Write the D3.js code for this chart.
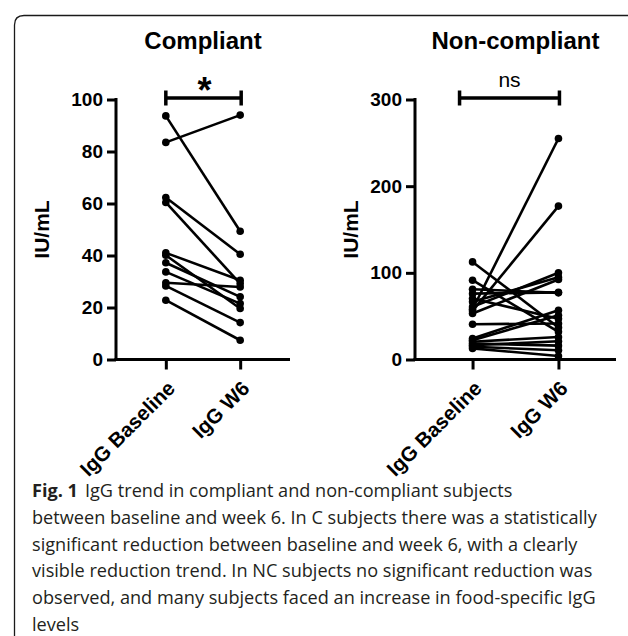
<!DOCTYPE html>
<html>
<head>
<meta charset="utf-8">
<script src="https://cdn.jsdelivr.net/npm/d3@7"></script>
<style>
  body{margin:0;background:#fff;}
  svg{display:block;}
</style>
</head>
<body>
<div id="fig"></div>
<script>
var fig_w=628
var fig_h=636

//Data (IU/mL), one entry per subject
var timepoints=["IgG Baseline","IgG W6"];
var compliantBaseline=[93.7,83.5,62.3,60.4,41.0,40.1,37.2,33.7,29.5,28.3,22.8];
var compliantW6=[49.3,94.0,40.5,29.2,30.5,19.6,24.1,21.5,27.9,14.2,7.4];
var nonCompliantBaseline=[112.6,91.5,81.1,76.0,70.4,66.5,60.7,58.0,56.1,53.0,40.7,24.2,22.3,20.5,18.5,16.5,14.7,12.8];
var nonCompliantW6=[37.0,31.9,76.9,77.5,47.0,95.0,100.0,255.0,177.0,92.3,41.5,56.9,51.1,26.0,16.0,21.0,10.7,4.0];
var compliantTicks=[0,20,40,60,80,100];
var nonCompliantTicks=[0,100,200,300];
var captionLines=[
  "IgG trend in compliant and non-compliant subjects",
  "between baseline and week 6. In C subjects there was a statistically",
  "significant reduction between baseline and week 6, with a clearly",
  "visible reduction trend. In NC subjects no significant reduction was",
  "observed, and many subjects faced an increase in food-specific IgG",
  "levels"
];

var svg=d3.select("#fig")
          .append("svg")
          .attr("width",fig_w)
          .attr("height",fig_h);

//Figure frame (left and top border with rounded corner)
svg.append("path")
   .attr("d","M14.5,"+fig_h+" L14.5,25 Q14.5,15.5 24,15.5 L"+fig_w+",15.5")
   .style("fill","none")
   .style("stroke","#1a1a1a")
   .style("stroke-width",1.3);

var bold="'Liberation Sans', Arial, sans-serif";

function drawPanel(opt) {
    var g=svg.append("g").attr("class","panel");
    var top=99.5, bottom=359.5;

    var xScale=d3.scalePoint()
                 .domain(timepoints)
                 .range([opt.left,opt.right])
                 .padding(0.67);
    var yScale=d3.scaleLinear()
                 .domain([0,opt.max])
                 .range([bottom,top]);

    //y-axis
    var yAxis=d3.axisLeft(yScale)
                .tickValues(opt.ticks)
                .tickSize(9)
                .tickPadding(4)
                .tickSizeOuter(0);
    var ya=g.append("g")
            .attr("transform","translate("+opt.left+",0)")
            .call(yAxis);
    ya.select(".domain").style("stroke","#000").style("stroke-width",3).attr("d","M0,"+(top-1.5)+"V"+(bottom+1.5));
    ya.selectAll(".tick line").style("stroke","#000").style("stroke-width",3);
    ya.selectAll(".tick text")
      .style("font-family",bold)
      .style("font-weight","bold")
      .style("font-size","19px")
      .attr("fill","#000");

    //x-axis
    var xAxis=d3.axisBottom(xScale)
                .tickSize(10)
                .tickSizeOuter(0);
    var xa=g.append("g")
            .attr("transform","translate(0,"+bottom+")")
            .call(xAxis);
    xa.select(".domain").style("stroke","#000").style("stroke-width",3).attr("d","M"+(opt.left-1.5)+",0H"+opt.right);
    xa.selectAll(".tick line").style("stroke","#000").style("stroke-width",3);
    xa.selectAll(".tick text")
      .style("font-family",bold)
      .style("font-weight","bold")
      .style("font-size","20.5px")
      .attr("fill","#000")
      .attr("text-anchor","end")
      .attr("y",0)
      .attr("dy","0.35em")
      .attr("transform","translate(5,25)rotate(-45)");

    //Axis title
    g.append("text")
     .attr("transform","translate("+(opt.left-opt.labelOffset)+","+((top+bottom)/2)+")rotate(-90)")
     .attr("text-anchor","middle")
     .attr("dominant-baseline","central")
     .style("font-family",bold)
     .style("font-weight","bold")
     .style("font-size","21px")
     .text("IU/mL");

    //Panel title
    g.append("text")
     .attr("x",(opt.left+opt.right)/2)
     .attr("y",49)
     .attr("text-anchor","middle")
     .style("font-family",bold)
     .style("font-weight","bold")
     .style("font-size","24px")
     .text(opt.title);

    //Significance bracket
    var bx0=xScale(timepoints[0])-opt.bracketInset, bx1=xScale(timepoints[1])+1;
    var by=98;
    g.append("path")
     .attr("d","M"+bx0+","+(by-7.5)+"V"+(by+7.5)+"M"+bx0+","+by+"H"+bx1+"M"+bx1+","+(by-7.5)+"V"+(by+7.5))
     .style("fill","none")
     .style("stroke","#000")
     .style("stroke-width",3.5);
    g.append("text")
     .attr("x",(bx0+bx1)/2+opt.sigDx)
     .attr("y",opt.sigY)
     .attr("text-anchor","middle")
     .style("font-family",bold)
     .style("font-weight",opt.sigBold?"bold":"normal")
     .style("font-size",opt.sigSize+"px")
     .text(opt.sig);

    //Paired lines
    var pairs=opt.base.map(function(d,i) {return [d,opt.w6[i]];});
    var line=d3.line()
               .x(function(d,i) {return xScale(timepoints[i]);})
               .y(function(d) {return yScale(d);});
    g.append("g")
     .selectAll("path")
     .data(pairs)
     .enter()
     .append("path")
     .attr("d",line)
     .style("fill","none")
     .style("stroke","#000")
     .style("stroke-width",2.6);

    //Points
    var pts=[];
    pairs.forEach(function(p) {
        pts.push({t:timepoints[0],v:p[0]});
        pts.push({t:timepoints[1],v:p[1]});
    });
    g.append("g")
     .selectAll("circle")
     .data(pts)
     .enter()
     .append("circle")
     .attr("cx",function(d) {return xScale(d.t);})
     .attr("cy",function(d) {return yScale(d.v);})
     .attr("r",3.8)
     .style("fill","#000");
}

drawPanel({left:116,right:290,max:100,ticks:compliantTicks,base:compliantBaseline,w6:compliantW6,
           title:"Compliant",sig:"*",sigBold:true,sigSize:36,sigY:103,sigDx:1,bracketInset:0,labelOffset:75});
drawPanel({left:415,right:616,max:300,ticks:nonCompliantTicks,base:nonCompliantBaseline,w6:nonCompliantW6,
           title:"Non-compliant",sig:"ns",sigBold:false,sigSize:21,sigY:87,sigDx:0,bracketInset:13,labelOffset:65});

//Caption: font size chosen so the widest line spans about 565px
var cap=svg.append("g").attr("class","caption");
var capFont="'Open Sans', 'Noto Sans', sans-serif";
var probe=cap.append("text").style("font-family",capFont).style("font-size","20px").text(captionLines[1]);
var capSize=20*565/probe.node().getComputedTextLength();
probe.remove();

captionLines.forEach(function(s,i) {
    var t=cap.append("text")
             .attr("x",32)
             .attr("y",497+i*26.8)
             .style("font-family",capFont)
             .style("font-size",capSize+"px")
             .style("fill","#231f20");
    if(i==0) {
        t.append("tspan")
         .style("font-weight","bold")
         .text("Fig. 1");
        t.append("tspan").attr("dx",7).text(s);
    } else {
        t.text(s);
    }
});
</script>
</body>
</html>
